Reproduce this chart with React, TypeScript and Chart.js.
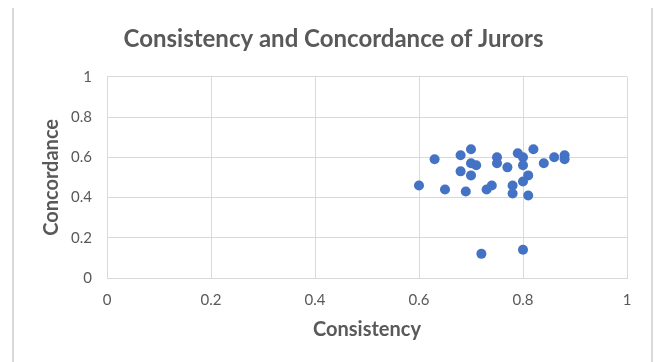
import React, { useEffect, useRef } from "react";
import { Chart, registerables } from "chart.js";

Chart.register(...registerables);

// Juror scores: consistency (x) and concordance (y)
const consistency = [
  0.6, 0.63, 0.65, 0.68, 0.7, 0.68, 0.7, 0.71, 0.7, 0.69,
  0.72, 0.73, 0.74, 0.75, 0.75, 0.77, 0.78, 0.78, 0.79, 0.8,
  0.8, 0.8, 0.81, 0.81, 0.8, 0.82, 0.84, 0.86, 0.88, 0.88,
];
const concordance = [
  0.46, 0.59, 0.44, 0.61, 0.64, 0.53, 0.57, 0.56, 0.51, 0.43,
  0.12, 0.44, 0.46, 0.6, 0.57, 0.55, 0.46, 0.42, 0.62, 0.6,
  0.56, 0.48, 0.51, 0.41, 0.14, 0.64, 0.57, 0.6, 0.61, 0.59,
];

const chartTitle = "Consistency and Concordance of Jurors";
const xAxisTitle = "Consistency";
const yAxisTitle = "Concordance";

const FONT = "Lato, 'Open Sans', sans-serif";
const TEXT = "#595959";
const GRID = "#d9d9d9";
const MARK = "#4472C4";

const tickLabel = (v: number | string) => String(Math.round(Number(v) * 10) / 10);

// Light frame lines on the left and right sides of the chart box
const frame = {
  id: "frame",
  beforeDraw(chart: Chart) {
    const { ctx, width, height } = chart;
    ctx.save();
    ctx.fillStyle = "#ffffff";
    ctx.fillRect(0, 0, width, height);
    ctx.fillStyle = GRID;
    ctx.fillRect(12, 8, 2, height - 8);
    ctx.fillRect(651, 8, 2, height - 8);
    ctx.restore();
  },
};

export default function App() {
  const ref = useRef<HTMLCanvasElement | null>(null);

  useEffect(() => {
    if (!ref.current) return;
    const points = consistency.map((x, i) => ({ x, y: concordance[i] }));
    const chart = new Chart(ref.current, {
      type: "scatter",
      data: {
        datasets: [
          {
            data: points,
            backgroundColor: MARK,
            borderColor: MARK,
            pointRadius: 5,
            pointHoverRadius: 5,
            borderWidth: 0,
          },
        ],
      },
      options: {
        responsive: false,
        animation: false,
        layout: { padding: { left: 40, right: 29, top: 0, bottom: 0 } },
        plugins: {
          legend: { display: false },
          tooltip: { enabled: false },
          title: {
            display: true,
            text: chartTitle,
            color: TEXT,
            font: { family: FONT, size: 24, weight: "bold", lineHeight: 1.2 },
            padding: { top: 25, bottom: 23 },
          },
        },
        scales: {
          x: {
            type: "linear",
            min: 0,
            max: 1,
            afterFit(scale: any) {
              scale.height = 84;
            },
            ticks: {
              stepSize: 0.2,
              color: TEXT,
              padding: 13,
              font: { family: FONT, size: 15 },
              callback: tickLabel,
            },
            grid: { color: GRID, lineWidth: 1, drawTicks: false },
            border: { color: GRID, width: 1 },
            title: {
              display: true,
              text: xAxisTitle,
              color: TEXT,
              font: { family: FONT, size: 20, weight: "bold", lineHeight: 1.2 },
              padding: { top: 0, bottom: 20 },
            },
          },
          y: {
            type: "linear",
            min: 0,
            max: 1,
            afterFit(scale: any) {
              scale.width = 67;
            },
            ticks: {
              stepSize: 0.2,
              color: TEXT,
              padding: 15,
              font: { family: FONT, size: 15 },
              callback: tickLabel,
            },
            grid: { color: GRID, lineWidth: 1, drawTicks: false },
            border: { color: GRID, width: 1 },
            title: {
              display: true,
              text: yAxisTitle,
              color: TEXT,
              font: { family: FONT, size: 20, weight: "bold", lineHeight: 1.2 },
              padding: { top: 0, bottom: 0 },
            },
          },
        },
      },
      plugins: [frame],
    });
    return () => chart.destroy();
  }, []);

  return (
    <div style={{ position: "fixed", left: 0, top: 0, width: 656, height: 362 }}>
      <canvas ref={ref} width={656} height={362} style={{ display: "block" }} />
    </div>
  );
}
